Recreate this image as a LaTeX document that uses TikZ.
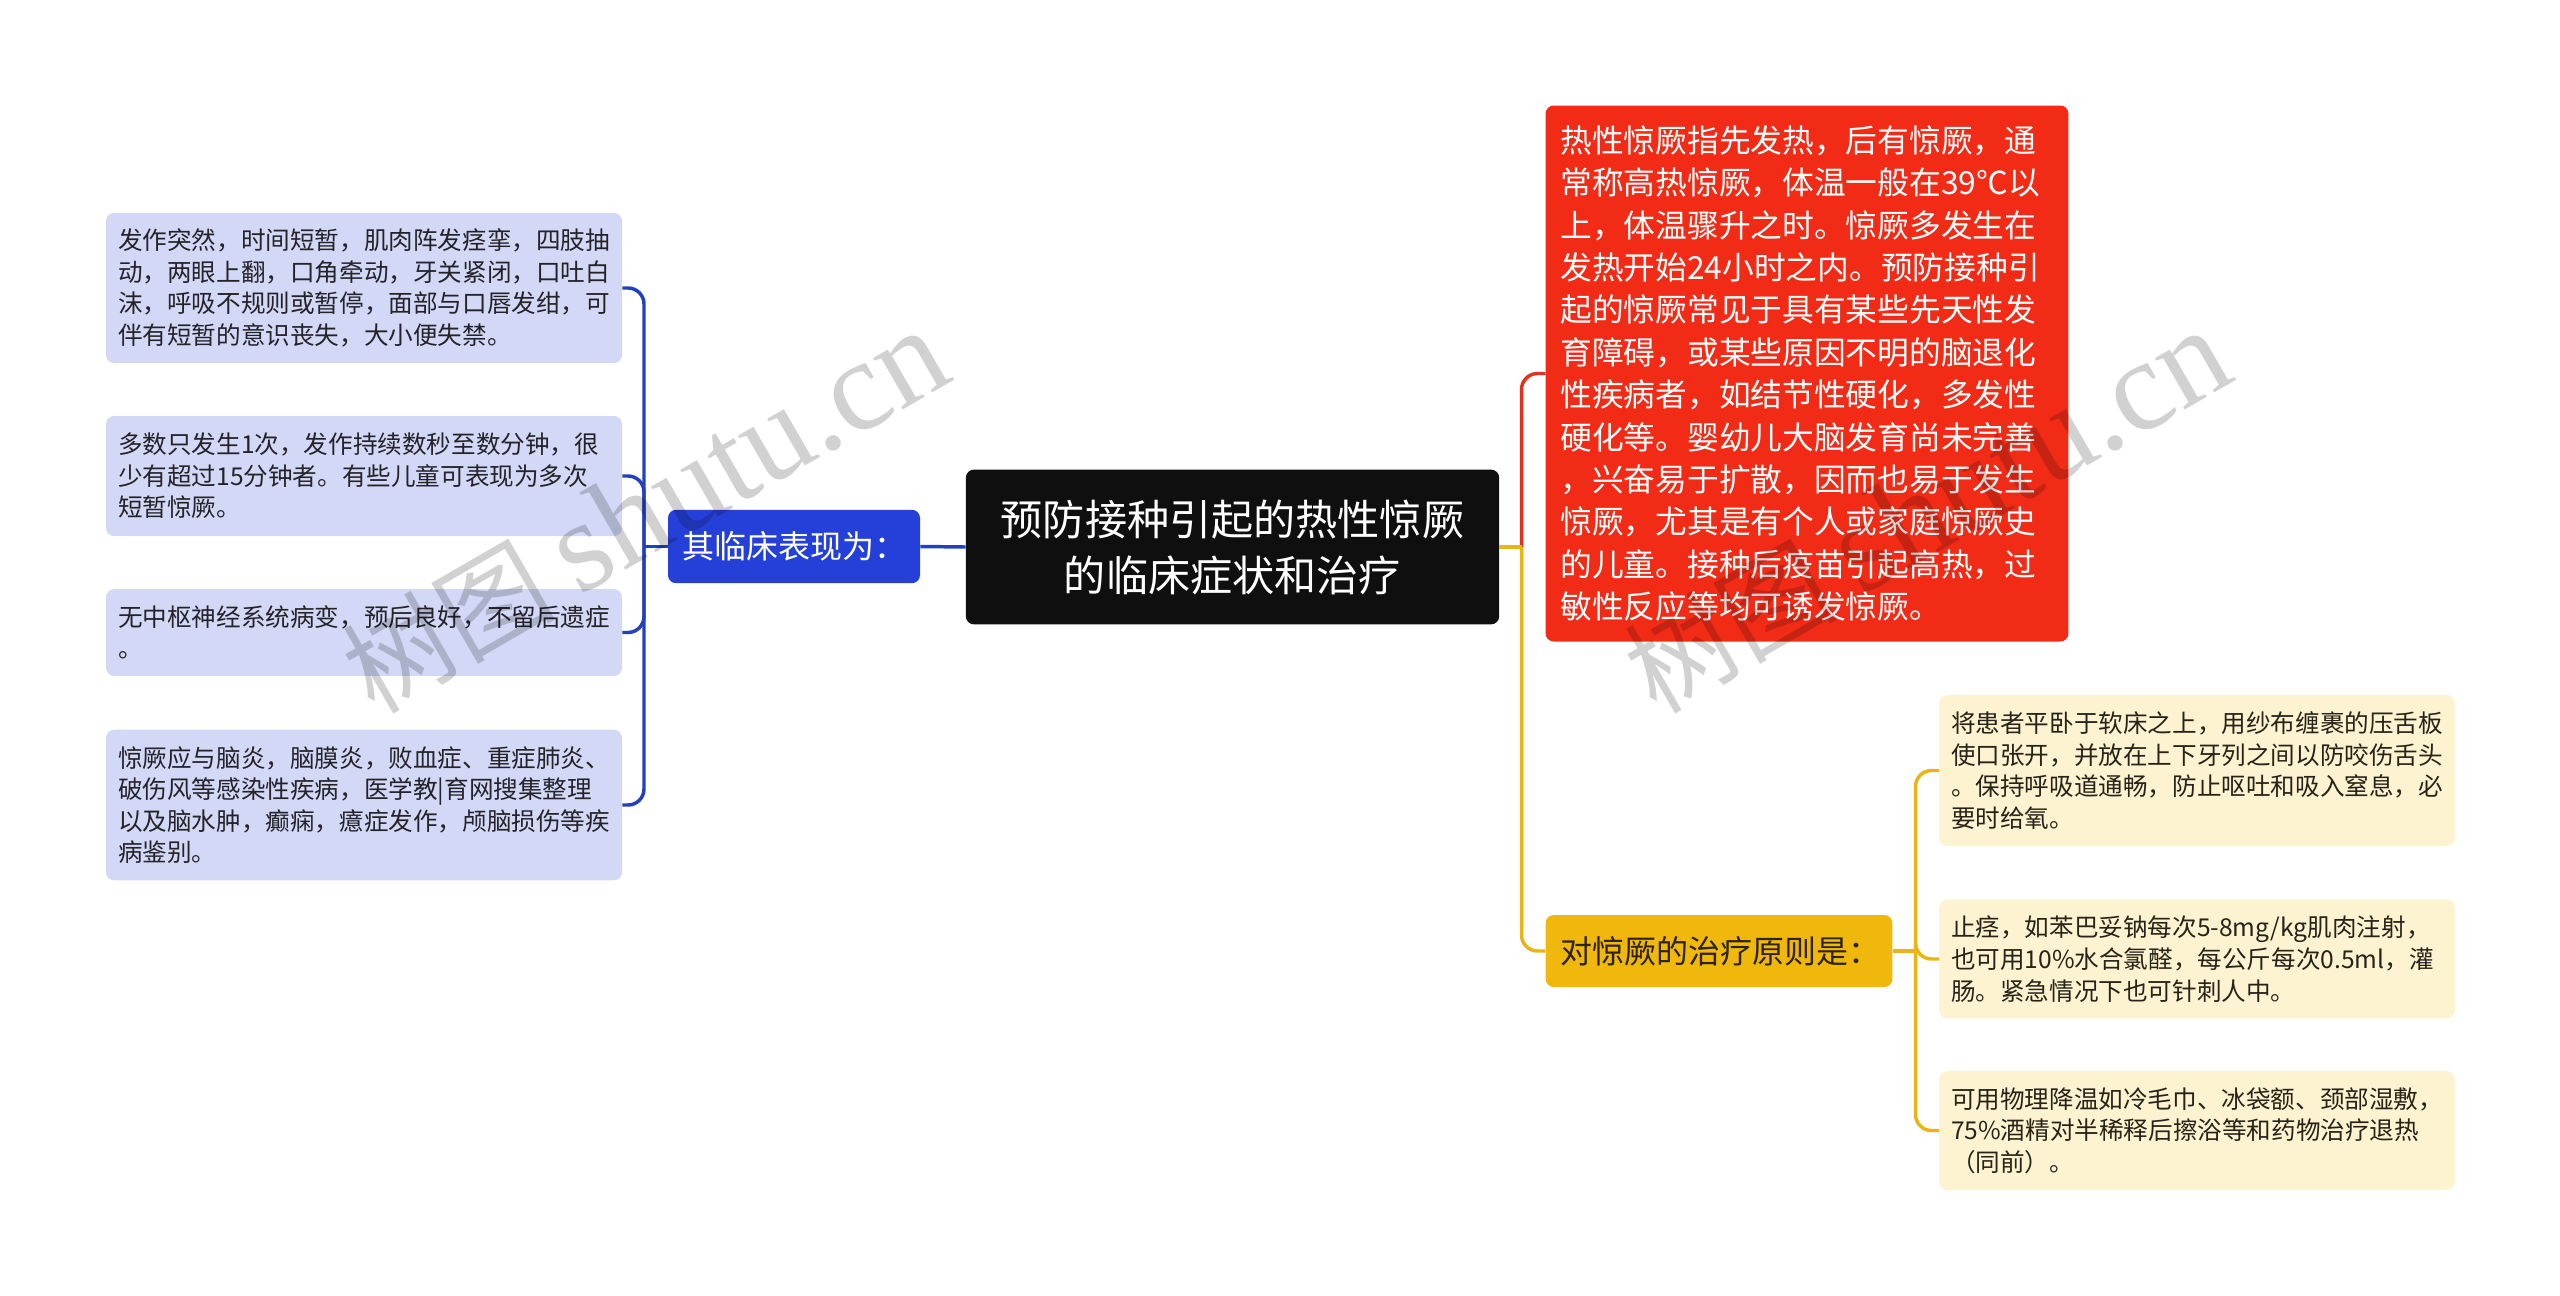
\documentclass[tikz,border=0pt]{standalone}
\usepackage{fontspec}
\setmainfont{Noto Sans CJK SC}
\newfontfamily\markfont{Liberation Serif}
\newfontfamily\markcjk{Noto Sans CJK SC}

\tikzset{
  basebox/.style={rectangle,rounded corners=6pt,inner sep=0pt,align=left},
  rootbox/.style={basebox,fill={rgb, 255:red, 15; green, 15; blue, 15 },text=white,minimum width=400pt,minimum height=116pt,align=center,font=\fontsize{31.6}{42}\selectfont},
  topicblue/.style={basebox,fill={rgb, 255:red, 37; green, 64; blue, 217 },text=white,minimum width=189pt,minimum height=55pt,text width=167pt,font=\fontsize{24}{32}\selectfont},
  topicyellow/.style={basebox,fill={rgb, 255:red, 240; green, 184; blue, 12 },text={rgb, 255:red, 45; green, 35; blue, 5 },minimum width=260pt,minimum height=54pt,text width=238pt,font=\fontsize{24}{32}\selectfont},
  topicred/.style={basebox,fill={rgb, 255:red, 242; green, 43; blue, 23 },text=white,minimum width=392pt,text width=370pt,font=\fontsize{23.8}{31.8}\selectfont},
  leafblue/.style={basebox,fill={rgb, 255:red, 211; green, 216; blue, 247 },text={rgb, 255:red, 35; green, 35; blue, 40 },minimum width=387pt,text width=369pt,font=\fontsize{18.45}{23.7}\selectfont},
  leafyellow/.style={basebox,fill={rgb, 255:red, 253; green, 243; blue, 208 },text={rgb, 255:red, 40; green, 35; blue, 25 },minimum width=387pt,text width=369pt,font=\fontsize{18.45}{23.7}\selectfont},
  linkblue/.style={draw={rgb, 255:red, 37; green, 64; blue, 190 },line width=2.6pt,rounded corners=12pt},
  linkred/.style={draw={rgb, 255:red, 225; green, 50; blue, 30 },line width=2.6pt,rounded corners=12pt},
  linkyellow/.style={draw={rgb, 255:red, 233; green, 180; blue, 20 },line width=2.6pt,rounded corners=12pt},
  wmark/.style={rotate=30,text=black,text opacity=0.18,inner sep=0pt,font=\fontsize{80}{80}\selectfont}
}

\begin{document}
\begin{tikzpicture}[x=0.75pt,y=0.75pt,yscale=-1,xscale=1]
        \useasboundingbox (0,0) rectangle (2560,1296);
        \coordinate (spineleft) at (644,547);
        \coordinate (spinemid) at (1521.5,547);
        \coordinate (spineright) at (1915.5,951);
        \draw (1232.5,547) node (root) [rootbox] {预防接种引起的热性惊厥\\的临床症状和治疗};
        \draw (794,546.5) node (clinic) [topicblue] {其临床表现为：};
        \draw (1807,373.5) node (febrile) [topicred,minimum height=402pt] {热性惊厥指先发热，后有惊厥，通\\常称高热惊厥，体温一般在39℃以\\上，体温骤升之时。惊厥多发生在\\发热开始24小时之内。预防接种引\\起的惊厥常见于具有某些先天性发\\育障碍，或某些原因不明的脑退化\\性疾病者，如结节性硬化，多发性\\硬化等。婴幼儿大脑发育尚未完善\\，兴奋易于扩散，因而也易于发生\\惊厥，尤其是有个人或家庭惊厥史\\的儿童。接种后疫苗引起高热，过\\敏性反应等均可诱发惊厥。};
        \draw (1719,951) node (therapy) [topicyellow] {对惊厥的治疗原则是：};
        \draw (364,288) node (clinica) [leafblue,minimum height=112.5pt] {发作突然，时间短暂，肌肉阵发痉挛，四肢抽\\动，两眼上翻，口角牵动，牙关紧闭，口吐白\\沫，呼吸不规则或暂停，面部与口唇发绀，可\\伴有短暂的意识丧失，大小便失禁。};
        \draw (364,476) node (clinicb) [leafblue,minimum height=90pt] {多数只发生1次，发作持续数秒至数分钟，很\\少有超过15分钟者。有些儿童可表现为多次\\短暂惊厥。};
        \draw (364,632.5) node (clinicc) [leafblue,minimum height=65pt] {无中枢神经系统病变，预后良好，不留后遗症\\。};
        \draw (364,805) node (clinicd) [leafblue,minimum height=113pt] {惊厥应与脑炎，脑膜炎，败血症、重症肺炎、\\破伤风等感染性疾病，医学教|育网搜集整理\\以及脑水肿，癫痫，癔症发作，颅脑损伤等疾\\病鉴别。};
        \draw (2197,770.5) node (therapya) [leafyellow,minimum height=113pt] {将患者平卧于软床之上，用纱布缠裹的压舌板\\使口张开，并放在上下牙列之间以防咬伤舌头\\。保持呼吸道通畅，防止呕吐和吸入窒息，必\\要时给氧。};
        \draw (2197,959) node (therapyb) [leafyellow,minimum height=89pt] {止痉，如苯巴妥钠每次5-8mg/kg肌肉注射，\\也可用10\%水合氯醛，每公斤每次0.5ml，灌\\肠。紧急情况下也可针刺人中。};
        \draw (2197,1130.5) node (therapyc) [leafyellow,minimum height=89pt] {可用物理降温如冷毛巾、冰袋额、颈部湿敷，\\75\%酒精对半稀释后擦浴等和药物治疗退热\\（同前）。};
        \draw [linkblue] (root.west) -- (clinic.east);
        \draw [linkblue] (clinic.west) -- (spineleft |- clinic.west);
        \draw [linkblue] (spineleft |- clinic.west) -- (spineleft |- clinica.east) -- (clinica.east);
        \draw [linkblue] (spineleft |- clinic.west) -- (spineleft |- clinicb.east) -- (clinicb.east);
        \draw [linkblue] (spineleft |- clinic.west) -- (spineleft |- clinicc.east) -- (clinicc.east);
        \draw [linkblue] (spineleft |- clinic.west) -- (spineleft |- clinicd.east) -- (clinicd.east);
        \draw [linkred] (spinemid |- root.east) -- (spinemid |- febrile.west) -- (febrile.west);
        \draw [linkyellow] (spinemid |- root.east) -- (spinemid |- therapy.west) -- (therapy.west);
        \draw [linkyellow] (root.east) -- (spinemid |- root.east);
        \draw [linkyellow] (therapy.east) -- (spineright |- therapy.east);
        \draw [linkyellow] (spineright |- therapy.east) -- (spineright |- therapya.west) -- (therapya.west);
        \draw [linkyellow] (spineright |- therapy.east) -- (spineright |- therapyb.west) -- (therapyb.west);
        \draw [linkyellow] (spineright |- therapy.east) -- (spineright |- therapyc.west) -- (therapyc.west);
        \draw (645,512) node (markleft) [wmark] {\markcjk 树图 \fontsize{97}{97}\selectfont\markfont shutu.cn};
        \draw (1927,512) node (markright) [wmark] {\markcjk 树图 \fontsize{97}{97}\selectfont\markfont shutu.cn};
\end{tikzpicture}
\end{document}
